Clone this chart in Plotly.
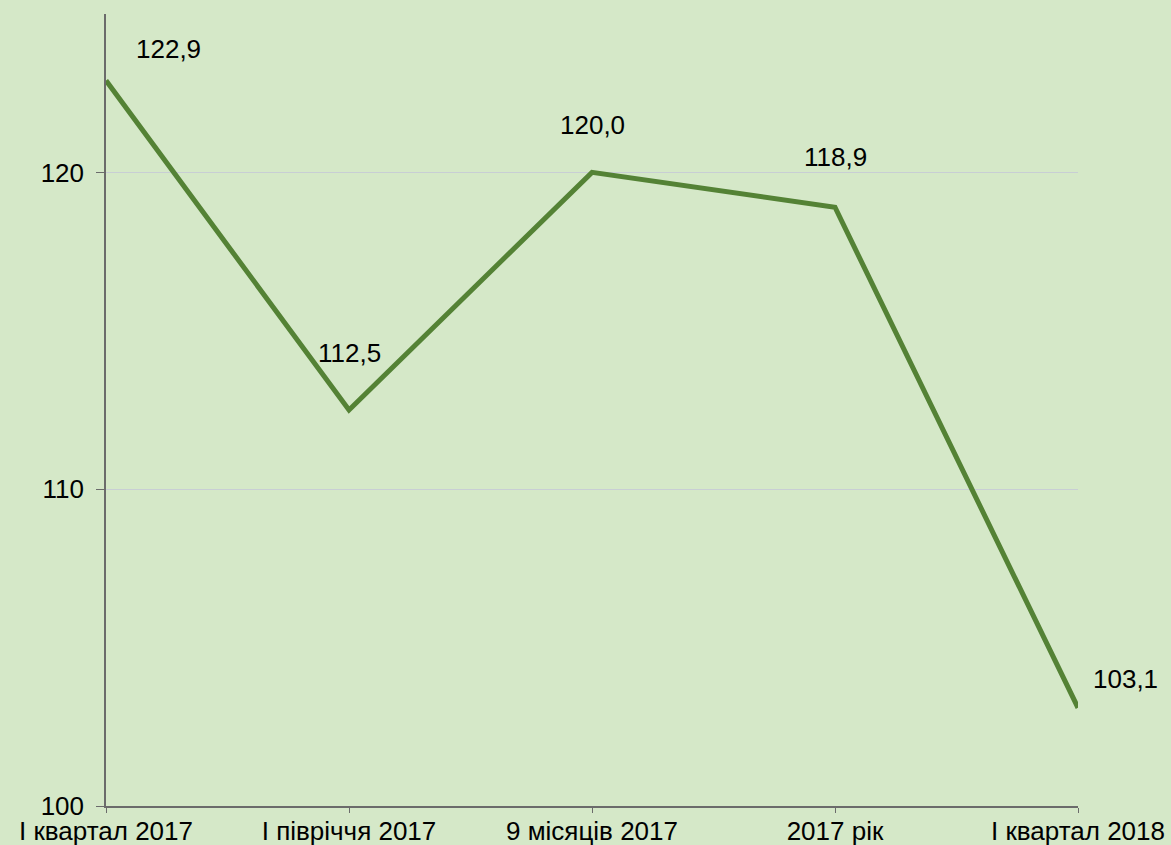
import plotly.graph_objects as go

categories = ["I квартал 2017", "I півріччя 2017", "9 місяців 2017", "2017 рік", "I квартал 2018"]
values = [122.9, 112.5, 120.0, 118.9, 103.1]
label_texts = ["122,9", "112,5", "120,0", "118,9", "103,1"]
y_ticks = [100, 110, 120]

# label offsets in pixels (style only)
label_dx = [62, 0, 0, 0, 47]
label_dy = [32, 57, 47, 50, 29]

bg = "#d5e8c8"
line_color = "#548235"
font = dict(family="Liberation Sans, Arial, sans-serif", size=26, color="#000000")

x_idx = list(range(len(categories)))

fig = go.Figure()
fig.add_trace(go.Scatter(
    x=x_idx, y=values, mode="lines",
    line=dict(color=line_color, width=5),
    hoverinfo="skip", showlegend=False,
))

for i, (v, t) in enumerate(zip(values, label_texts)):
    fig.add_annotation(
        x=x_idx[i], y=v, text=t, showarrow=False,
        xshift=label_dx[i], yshift=label_dy[i],
        font=font, xanchor="center", yanchor="middle",
    )

fig.update_layout(
    width=1171, height=845,
    paper_bgcolor=bg, plot_bgcolor=bg,
    margin=dict(l=106, r=93, t=14, b=39),
    font=font,
    showlegend=False,
)
fig.update_xaxes(
    range=[0, 4], tickvals=x_idx, ticktext=categories,
    showgrid=False, zeroline=False, automargin=False,
    showline=True, linecolor="#6b6b6b", linewidth=1.5,
    ticks="outside", ticklen=5, tickcolor="#6b6b6b", tickwidth=1,
    ticklabelstandoff=-4,
    tickfont=font,
)
fig.update_yaxes(
    range=[100, 125], tickvals=y_ticks, ticktext=[str(v) for v in y_ticks],
    showgrid=True, gridcolor="#c8ced4", gridwidth=1, zeroline=False, automargin=False,
    showline=True, linecolor="#6b6b6b", linewidth=1.5,
    ticks="outside", ticklen=8, tickcolor="#6b6b6b", tickwidth=1,
    ticklabelstandoff=7,
    tickfont=font,
)

fig.write_html(
    "out.html",
    config={"displayModeBar": False},
    post_script="document.body.style.margin='0';document.body.style.overflow='hidden';document.body.style.background='#d5e8c8';",
)
